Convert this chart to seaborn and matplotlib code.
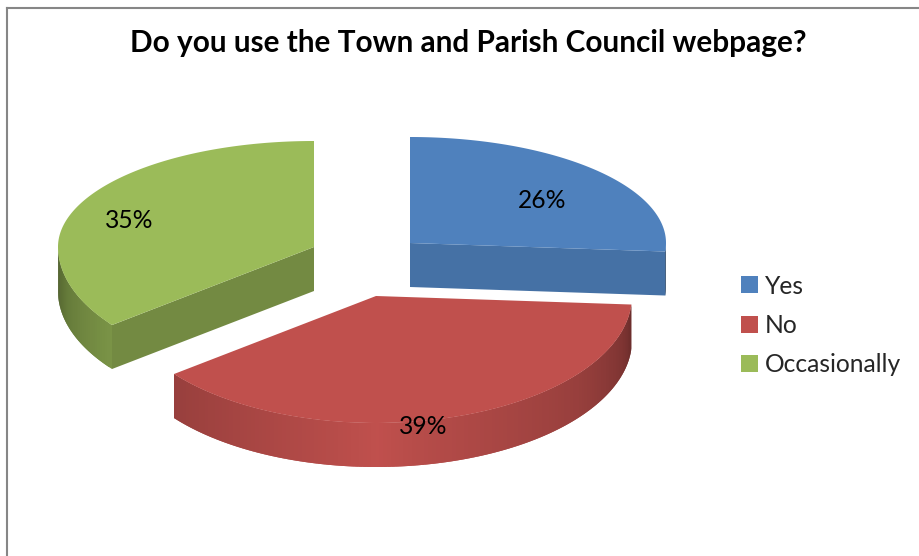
import numpy as np
import matplotlib
matplotlib.use("Agg")
import matplotlib.pyplot as plt
from matplotlib.patches import Patch
import seaborn as sns

# Survey results
TITLE = "Do you use the Town and Parish Council webpage?"
categories = ["Yes", "No", "Occasionally"]
shares = [26, 39, 35]

# Look of each slice
colors = sns.color_palette(["#4F81BD", "#C0504D", "#9BBB59"])
cut_face_shade = [0.875, 0.8, 0.74]
centres = [(410, 243), (376, 296), (314, 247)]
label_xy = [(542, 200), (423, 426), (129, 221)]

# Tilted disc proportions, in pixels
RADIUS_X = 256
RADIUS_BACK = 106
RADIUS_FRONT = 127
DEPTH = 44


def rim(theta, centre):
    """Point on the tilted rim; theta runs clockwise from twelve o'clock."""
    theta = np.asarray(theta, dtype=float)
    # Angles on the near half close up slightly under the camera tilt
    front = np.abs(theta - 180) < 90
    phi = np.radians(theta - 180)
    warped = theta - 2.0 * np.sin(2 * phi) * front
    t = np.radians(warped)
    c = np.cos(t)
    radius_y = np.where(c > 0, RADIUS_BACK, RADIUS_FRONT)
    return centre[0] + RADIUS_X * np.sin(t), centre[1] - radius_y * c


def wall_shade(theta):
    """Side wall is brightest facing the viewer and darkens toward the edges."""
    return np.interp(abs(theta - 180), [0, 10, 54, 75, 90], [1.0, 0.95, 0.79, 0.66, 0.5])


def darker(color, k):
    return tuple(np.array(color) * k)


sns.set_theme(style="white")
plt.rcParams["font.family"] = ["Lato", "DejaVu Sans"]

fig = plt.figure(figsize=(9.19, 5.56), dpi=100, facecolor="white")
ax = fig.add_axes([7 / 919, 0, 912 / 919, 548 / 556])
ax.set_xlim(7, 919)
ax.set_ylim(556, 8)
ax.set_xticks([])
ax.set_yticks([])
sns.despine(ax=ax, top=False, right=True, left=False, bottom=True)
for side in ("left", "top"):
    ax.spines[side].set_color("#868686")
    ax.spines[side].set_linewidth(1.5)

edges = np.concatenate([[0], np.cumsum(shares)]) / np.sum(shares) * 360

for i, color in enumerate(colors):
    start, end = edges[i], edges[i + 1]
    centre = centres[i]

    # Flat faces left by pulling the slice out of the pie
    for theta, visible in ((end, end < 180), (start, start > 180)):
        if visible:
            x, y = rim(theta, centre)
            ax.fill([centre[0], x, x, centre[0]],
                    [centre[1], y, y + DEPTH, centre[1] + DEPTH],
                    color=darker(color, cut_face_shade[i]), lw=0)

    # Curved outer wall: each strip runs under the next one so no seams show
    lo, hi = max(start, 90), min(end, 270)
    if lo < hi:
        steps = np.linspace(lo, hi, int((hi - lo)) + 2)
        for k, a in enumerate(steps[:-1]):
            b = steps[min(k + 2, len(steps) - 1)]
            arc = np.linspace(a, b, 6)
            xs, ys = rim(arc, centre)
            ax.fill(np.r_[xs, xs[::-1]], np.r_[ys, ys[::-1] + DEPTH],
                    color=darker(color, wall_shade((steps[k] + steps[k + 1]) / 2)), lw=0)

    # Top face
    arc = np.linspace(start, end, 200)
    xs, ys = rim(arc, centre)
    ax.fill(np.r_[centre[0], xs], np.r_[centre[1], ys], color=color, lw=0)

    ax.text(*label_xy[i], f"{shares[i]}%", ha="center", va="center",
            fontsize=17.7, color="black")

ax.text(468.5, 52, TITLE, ha="center", va="baseline", fontsize=21.4,
        fontweight="bold", color="black")

handles = [Patch(facecolor=c, edgecolor="none", label=n) for c, n in zip(colors, categories)]
ax.legend(handles=handles, loc="upper left", bbox_to_anchor=(741, 274.5),
          bbox_transform=ax.transData, frameon=False, fontsize=17.7,
          handlelength=0.69, handleheight=0.69, handletextpad=0.28,
          labelspacing=0.66, borderpad=0, borderaxespad=0)

fig.savefig("out.png", dpi=100, facecolor="white")
